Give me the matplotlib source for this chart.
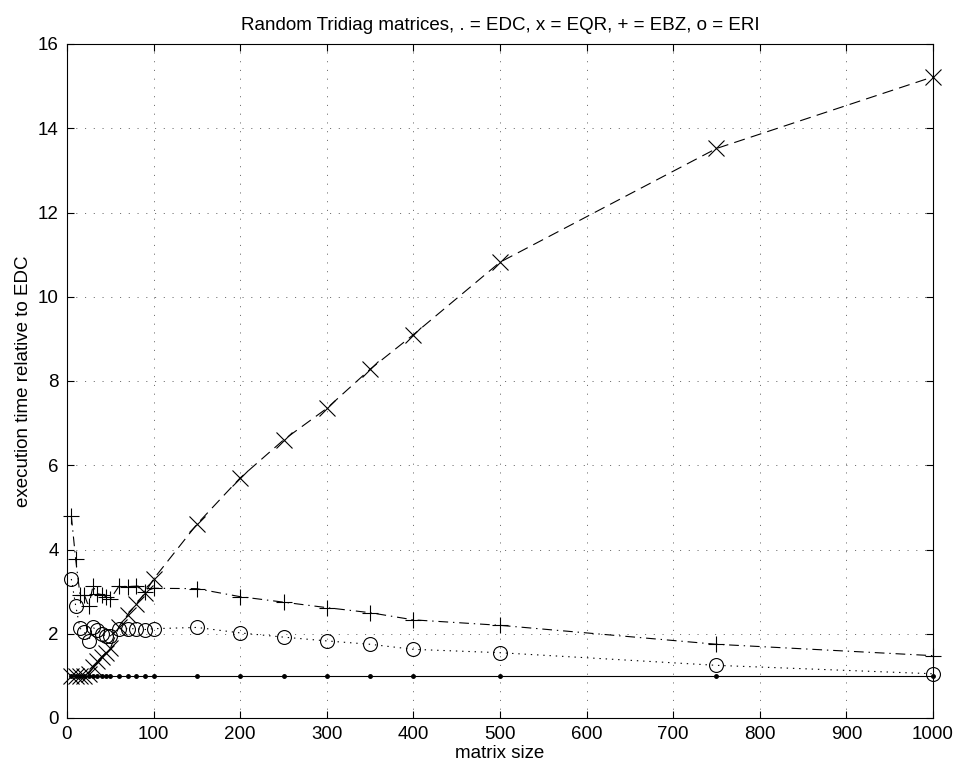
import matplotlib
matplotlib.use('Agg')
import matplotlib.pyplot as plt

plt.rcParams['font.family'] = ['Liberation Sans', 'DejaVu Sans']
plt.rcParams['lines.scale_dashes'] = False

n = [5, 10, 15, 20, 25, 30, 35, 40, 45, 50, 60, 70, 80, 90, 100,
     150, 200, 250, 300, 350, 400, 500, 750, 1000]
edc = [1.0] * len(n)
eqr = [1.0, 1.0, 1.0, 1.0, 1.05, 1.2, 1.35, 1.45, 1.55, 1.65, 2.17, 2.45, 2.7, 2.97, 3.3,
       4.6, 5.7, 6.6, 7.35, 8.28, 9.1, 10.82, 13.52, 15.22]
ebz = [4.8, 3.77, 2.93, 2.92, 2.65, 3.13, 2.95, 2.93, 2.88, 2.82, 3.13, 3.12, 3.13, 3.0, 3.08,
       3.07, 2.88, 2.75, 2.62, 2.5, 2.33, 2.2, 1.75, 1.48]
eri = [3.3, 2.67, 2.13, 2.05, 1.82, 2.15, 2.08, 2.0, 1.95, 1.95, 2.12, 2.12, 2.12, 2.1, 2.12,
       2.15, 2.02, 1.92, 1.83, 1.75, 1.63, 1.55, 1.25, 1.05]

fig = plt.figure(figsize=(9.62, 7.75), dpi=100)
ax = fig.add_axes([67 / 962, 1 - 718 / 775, 866 / 962, 674 / 775])

lw = 0.8
ax.plot(n, edc, '-', color='k', lw=lw, marker='.', ms=5, clip_on=False)
ax.plot(n, eqr, color='k', lw=lw, dashes=(8, 4.5), marker='x', ms=11, mew=0.8, clip_on=False)
ax.plot(n, ebz, color='k', lw=lw, dashes=(7, 3.5, 1, 3.5), marker='+', ms=12, mew=0.8, clip_on=False)
ax.plot(n, eri, color='k', lw=lw, dashes=(1, 3.5), marker='o', ms=10, mew=0.8,
        fillstyle='none', clip_on=False)

ax.set_xlim(0, 1000)
ax.set_ylim(0, 16)
ax.set_xticks(range(0, 1001, 100))
ax.set_yticks(range(0, 17, 2))
ax.grid(True, color='0.35', lw=0.6, dashes=(0.8, 5.5))
ax.set_axisbelow(True)
ax.tick_params(direction='in', top=True, right=True, labelsize=13.5, length=5, pad=6)
for s in ax.spines.values():
    s.set_linewidth(0.8)

ax.set_title('Random Tridiag matrices, . = EDC, x = EQR, + = EBZ, o = ERI', fontsize=13.5, pad=10)
ax.set_xlabel('matrix size', fontsize=13.5, labelpad=1)
ax.set_ylabel('execution time relative to EDC', fontsize=13.5, labelpad=4)

fig.savefig('out.png', dpi=100)
